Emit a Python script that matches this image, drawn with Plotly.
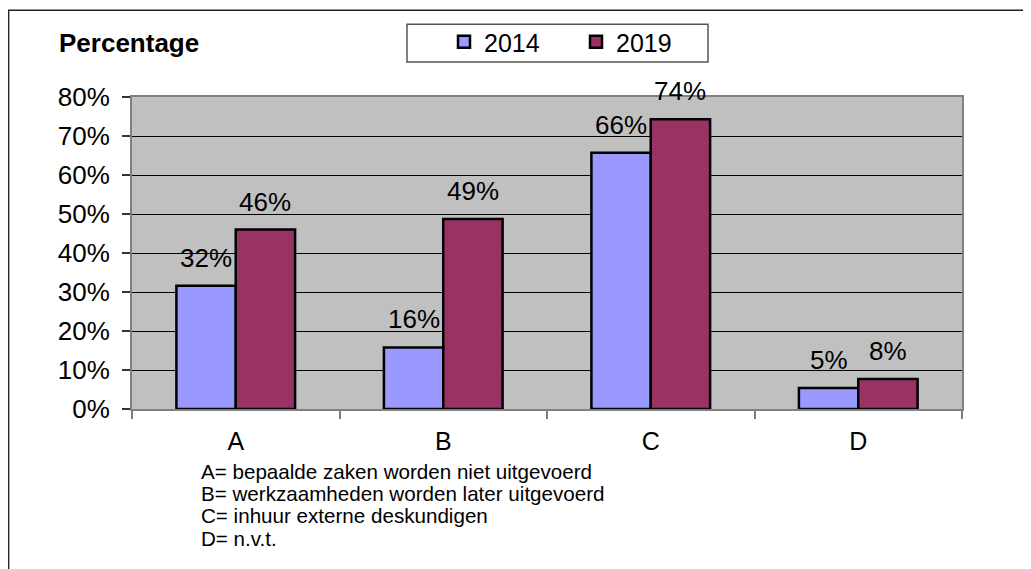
import plotly.graph_objects as go

categories = ["A", "B", "C", "D"]
series_names = ["2014", "2019"]
values_2014 = [0.316, 0.158, 0.657, 0.054]
values_2019 = [0.460, 0.487, 0.743, 0.077]
y_ticks = [0, 0.1, 0.2, 0.3, 0.4, 0.5, 0.6, 0.7, 0.8]
footnotes = [
    "A= bepaalde zaken worden niet uitgevoerd",
    "B= werkzaamheden worden later uitgevoerd",
    "C= inhuur externe deskundigen",
    "D= n.v.t.",
]
colors = ["#9999FF", "#993366"]

OFF = 8  # page body margin
W, H = 1031 - OFF, 569 - OFF
# plot area in screen pixels
PL, PR, PT, PB = 132, 962, 96, 409
BARGAP = 0.428
FONT = "Liberation Sans, Arial, sans-serif"


def px(x):
    return (x - PL) / (PR - PL)


def py(y):
    return (PB - y) / (PB - PT)


fig = go.Figure()
for name, vals, col in zip(series_names, [values_2014, values_2019], colors):
    fig.add_trace(go.Bar(
        name=name, x=categories, y=vals,
        marker=dict(color=col, line=dict(color="black", width=2.5)),
    ))

# data labels
cat_px = (PR - PL) / len(categories)
bar_px = cat_px * (1 - BARGAP) / 2
for i, vals in enumerate([values_2014, values_2019]):
    for c, v in zip(categories, vals):
        fig.add_annotation(
            x=c, y=v, xref="x", yref="y", text=f"{round(v*100)}%",
            showarrow=False, yanchor="bottom", xanchor="center",
            xshift=(i - 0.5) * bar_px, yshift=11,
            font=dict(family=FONT, size=26, color="black"),
        )

# title
fig.add_annotation(
    x=px(57), y=py(42), xref="paper", yref="paper", text="<b>Percentage</b>",
    showarrow=False, xanchor="left", yanchor="middle",
    font=dict(family=FONT, size=26, color="black"),
)

# footnotes
for k, t in enumerate(footnotes):
    fig.add_annotation(
        x=px(199), y=py(471.5 + 22.4 * k), xref="paper", yref="paper", text=t,
        showarrow=False, xanchor="left", yanchor="middle",
        font=dict(family=FONT, size=20.6, color="black"),
    )

# outer frame and legend box
fig.add_shape(type="rect", xref="paper", yref="paper",
              x0=px(8.6), x1=px(1045), y0=py(9), y1=py(590),
              line=dict(color="#222222", width=1.5), layer="below")
fig.add_shape(type="rect", xref="paper", yref="paper",
              x0=px(407), x1=px(708), y0=py(23), y1=py(61),
              line=dict(color="#555555", width=1.5), fillcolor="white", layer="below")

fig.update_layout(
    width=W, height=H,
    margin=dict(l=PL - OFF, r=W - (PR - OFF), t=PT - OFF, b=H - (PB - OFF)),
    paper_bgcolor="white", plot_bgcolor="#C0C0C0",
    barmode="group", bargap=BARGAP, bargroupgap=0,
    font=dict(family=FONT, size=24, color="black"),
    showlegend=True,
    legend=dict(
        orientation="h", x=px(444), y=py(42), xanchor="left", yanchor="middle",
        bgcolor="rgba(0,0,0,0)", borderwidth=0,
        font=dict(family=FONT, size=25, color="black"),
        entrywidth=87, entrywidthmode="pixels",
    ),
    xaxis=dict(
        type="category", showline=True, linecolor="#808080", linewidth=2,
        mirror=True, ticks="outside", tickson="boundaries", ticklen=8,
        tickcolor="#808080", tickwidth=2, ticklabelstandoff=9,
        tickfont=dict(family=FONT, size=25), showgrid=False,
    ),
    yaxis=dict(
        range=[0, 0.8], tickvals=y_ticks, tickformat=".0%",
        showline=True, linecolor="#808080", linewidth=2, mirror=True,
        ticks="outside", ticklen=8, tickcolor="#333333", tickwidth=1.5,
        ticklabelstandoff=7, showgrid=True, gridcolor="#000000", gridwidth=1,
        tickfont=dict(family=FONT, size=26), zeroline=False,
    ),
)

fig.write_html("out.html")
